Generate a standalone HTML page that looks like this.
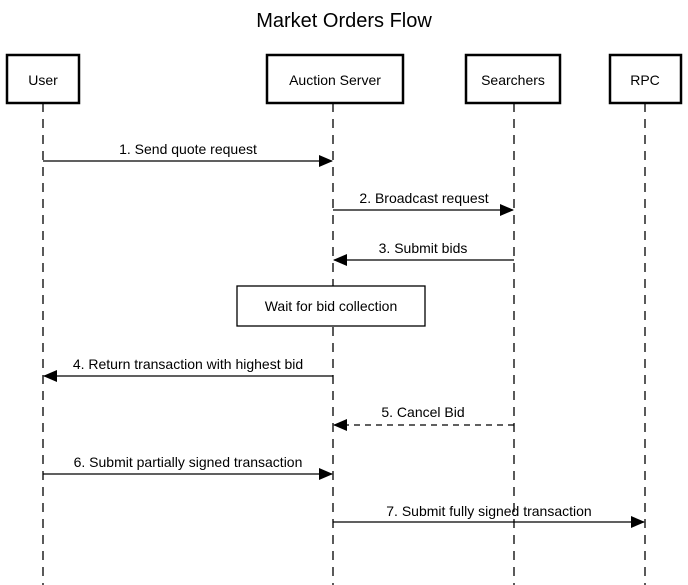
<!DOCTYPE html>
<html><head><style>html,body{margin:0;padding:0;background:#fff}svg{display:block}</style></head><body>
<svg width="688" height="585" viewBox="0 0 688 585" xmlns="http://www.w3.org/2000/svg" font-family="Liberation Sans, Arial, sans-serif">
<defs>
<marker id="a" markerWidth="14" markerHeight="12" refX="13" refY="6" orient="auto" markerUnits="userSpaceOnUse"><path d="M0,0 L14,6 L0,12 Z" fill="#000"/></marker>
</defs>
<text x="344" y="27" font-size="20" text-anchor="middle">Market Orders Flow</text>
<g stroke="#000" stroke-width="1.3" stroke-dasharray="9,7" fill="none">
<line x1="43" y1="103" x2="43" y2="585"/>
<line x1="333" y1="103" x2="333" y2="585"/>
<line x1="514" y1="103" x2="514" y2="585"/>
<line x1="645" y1="103" x2="645" y2="585"/>
</g>
<g stroke="#000" stroke-width="2.5" fill="#fff">
<rect x="7" y="55" width="72" height="48"/>
<rect x="267" y="55" width="136" height="48"/>
<rect x="466" y="55" width="94" height="48"/>
<rect x="610" y="55" width="71" height="48"/>
</g>
<g font-size="14" text-anchor="middle">
<text x="43" y="85">User</text>
<text x="335" y="85">Auction Server</text>
<text x="513" y="85">Searchers</text>
<text x="645" y="85">RPC</text>
</g>
<rect x="237" y="286" width="188" height="40" fill="#fff" stroke="#000" stroke-width="1.3"/>
<text x="331" y="311" font-size="14" text-anchor="middle">Wait for bid collection</text>
<g stroke="#000" stroke-width="1.3" fill="none">
<line x1="43" y1="161" x2="332" y2="161" marker-end="url(#a)"/>
<line x1="333" y1="210" x2="513" y2="210" marker-end="url(#a)"/>
<line x1="514" y1="260" x2="334" y2="260" marker-end="url(#a)"/>
<line x1="333" y1="376" x2="44" y2="376" marker-end="url(#a)"/>
<line x1="514" y1="425" x2="334" y2="425" stroke-dasharray="6,5" marker-end="url(#a)"/>
<line x1="43" y1="474" x2="332" y2="474" marker-end="url(#a)"/>
<line x1="333" y1="522" x2="644" y2="522" marker-end="url(#a)"/>
</g>
<g font-size="14" text-anchor="middle">
<text x="188" y="154">1. Send quote request</text>
<text x="424" y="203">2. Broadcast request</text>
<text x="423" y="253">3. Submit bids</text>
<text x="188" y="369">4. Return transaction with highest bid</text>
<text x="423" y="417">5. Cancel Bid</text>
<text x="188" y="467">6. Submit partially signed transaction</text>
<text x="489" y="516">7. Submit fully signed transaction</text>
</g>
</svg>
</body></html>
